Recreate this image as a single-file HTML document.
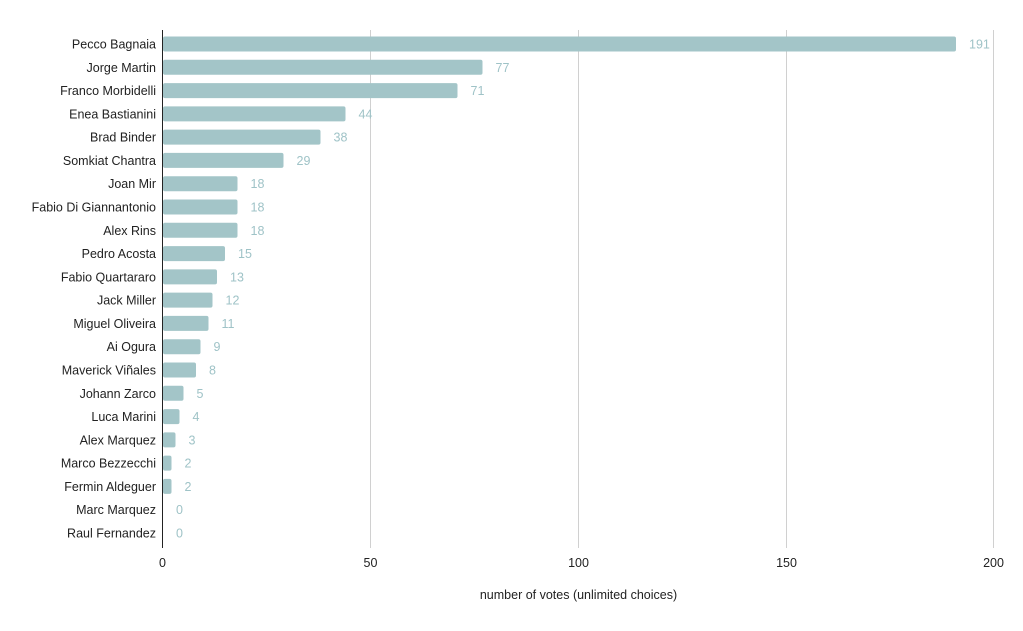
<!DOCTYPE html>
<html><head><meta charset="utf-8"><style>
body{margin:0;background:#fff}
svg{display:block;font-family:"Liberation Sans",Arial,sans-serif}
.n{font-size:12.5px;fill:#222;text-anchor:end}
.v{font-size:12.5px;fill:#9fc3c7}
.t{font-size:12.5px;fill:#222;text-anchor:middle}
rect{fill:#a3c5c8}
</style></head><body>
<svg width="1023" height="631" viewBox="0 0 1023 631">
<g stroke="#d0d0d0" stroke-width="1">
<line x1="370.5" y1="30" x2="370.5" y2="548"/>
<line x1="578.5" y1="30" x2="578.5" y2="548"/>
<line x1="786.5" y1="30" x2="786.5" y2="548"/>
<line x1="993.5" y1="30" x2="993.5" y2="548"/>
</g>
<g>
<rect x="163" y="36.5" width="793" height="15" rx="2"/>
<rect x="163" y="59.8" width="319.5" height="15" rx="2"/>
<rect x="163" y="83.1" width="294.5" height="15" rx="2"/>
<rect x="163" y="106.4" width="182.5" height="15" rx="2"/>
<rect x="163" y="129.6" width="157.5" height="15" rx="2"/>
<rect x="163" y="152.9" width="120.5" height="15" rx="2"/>
<rect x="163" y="176.2" width="74.5" height="15" rx="2"/>
<rect x="163" y="199.5" width="74.5" height="15" rx="2"/>
<rect x="163" y="222.8" width="74.5" height="15" rx="2"/>
<rect x="163" y="246.1" width="62" height="15" rx="2"/>
<rect x="163" y="269.4" width="54" height="15" rx="2"/>
<rect x="163" y="292.6" width="49.5" height="15" rx="2"/>
<rect x="163" y="315.9" width="45.5" height="15" rx="2"/>
<rect x="163" y="339.2" width="37.5" height="15" rx="2"/>
<rect x="163" y="362.5" width="33" height="15" rx="2"/>
<rect x="163" y="385.8" width="20.5" height="15" rx="2"/>
<rect x="163" y="409.1" width="16.5" height="15" rx="2"/>
<rect x="163" y="432.4" width="12.5" height="15" rx="2"/>
<rect x="163" y="455.6" width="8.5" height="15" rx="2"/>
<rect x="163" y="478.9" width="8.5" height="15" rx="2"/>
</g>
<line x1="162.5" y1="30" x2="162.5" y2="548" stroke="#222" stroke-width="1"/>
<g class="n">
<text x="156" y="48.5">Pecco Bagnaia</text>
<text x="156" y="71.8">Jorge Martin</text>
<text x="156" y="95.1">Franco Morbidelli</text>
<text x="156" y="118.4">Enea Bastianini</text>
<text x="156" y="141.6">Brad Binder</text>
<text x="156" y="164.9">Somkiat Chantra</text>
<text x="156" y="188.2">Joan Mir</text>
<text x="156" y="211.5">Fabio Di Giannantonio</text>
<text x="156" y="234.8">Alex Rins</text>
<text x="156" y="258.1">Pedro Acosta</text>
<text x="156" y="281.4">Fabio Quartararo</text>
<text x="156" y="304.6">Jack Miller</text>
<text x="156" y="327.9">Miguel Oliveira</text>
<text x="156" y="351.2">Ai Ogura</text>
<text x="156" y="374.5">Maverick Viñales</text>
<text x="156" y="397.8">Johann Zarco</text>
<text x="156" y="421.1">Luca Marini</text>
<text x="156" y="444.4">Alex Marquez</text>
<text x="156" y="467.6">Marco Bezzecchi</text>
<text x="156" y="490.9">Fermin Aldeguer</text>
<text x="156" y="514.2">Marc Marquez</text>
<text x="156" y="537.5">Raul Fernandez</text>
</g>
<g class="v">
<text x="969" y="48.5">191</text>
<text x="495.5" y="71.8">77</text>
<text x="470.5" y="95.1">71</text>
<text x="358.5" y="118.4">44</text>
<text x="333.5" y="141.6">38</text>
<text x="296.5" y="164.9">29</text>
<text x="250.5" y="188.2">18</text>
<text x="250.5" y="211.5">18</text>
<text x="250.5" y="234.8">18</text>
<text x="238" y="258.1">15</text>
<text x="230" y="281.4">13</text>
<text x="225.5" y="304.6">12</text>
<text x="221.5" y="327.9">11</text>
<text x="213.5" y="351.2">9</text>
<text x="209" y="374.5">8</text>
<text x="196.5" y="397.8">5</text>
<text x="192.5" y="421.1">4</text>
<text x="188.5" y="444.4">3</text>
<text x="184.5" y="467.6">2</text>
<text x="184.5" y="490.9">2</text>
<text x="176" y="514.2">0</text>
<text x="176" y="537.5">0</text>
</g>
<g class="t">
<text x="162.5" y="567">0</text>
<text x="370.5" y="567">50</text>
<text x="578.5" y="567">100</text>
<text x="786.5" y="567">150</text>
<text x="993.5" y="567">200</text>
<text x="578.5" y="599">number of votes (unlimited choices)</text>
</g>
</svg>
</body></html>
